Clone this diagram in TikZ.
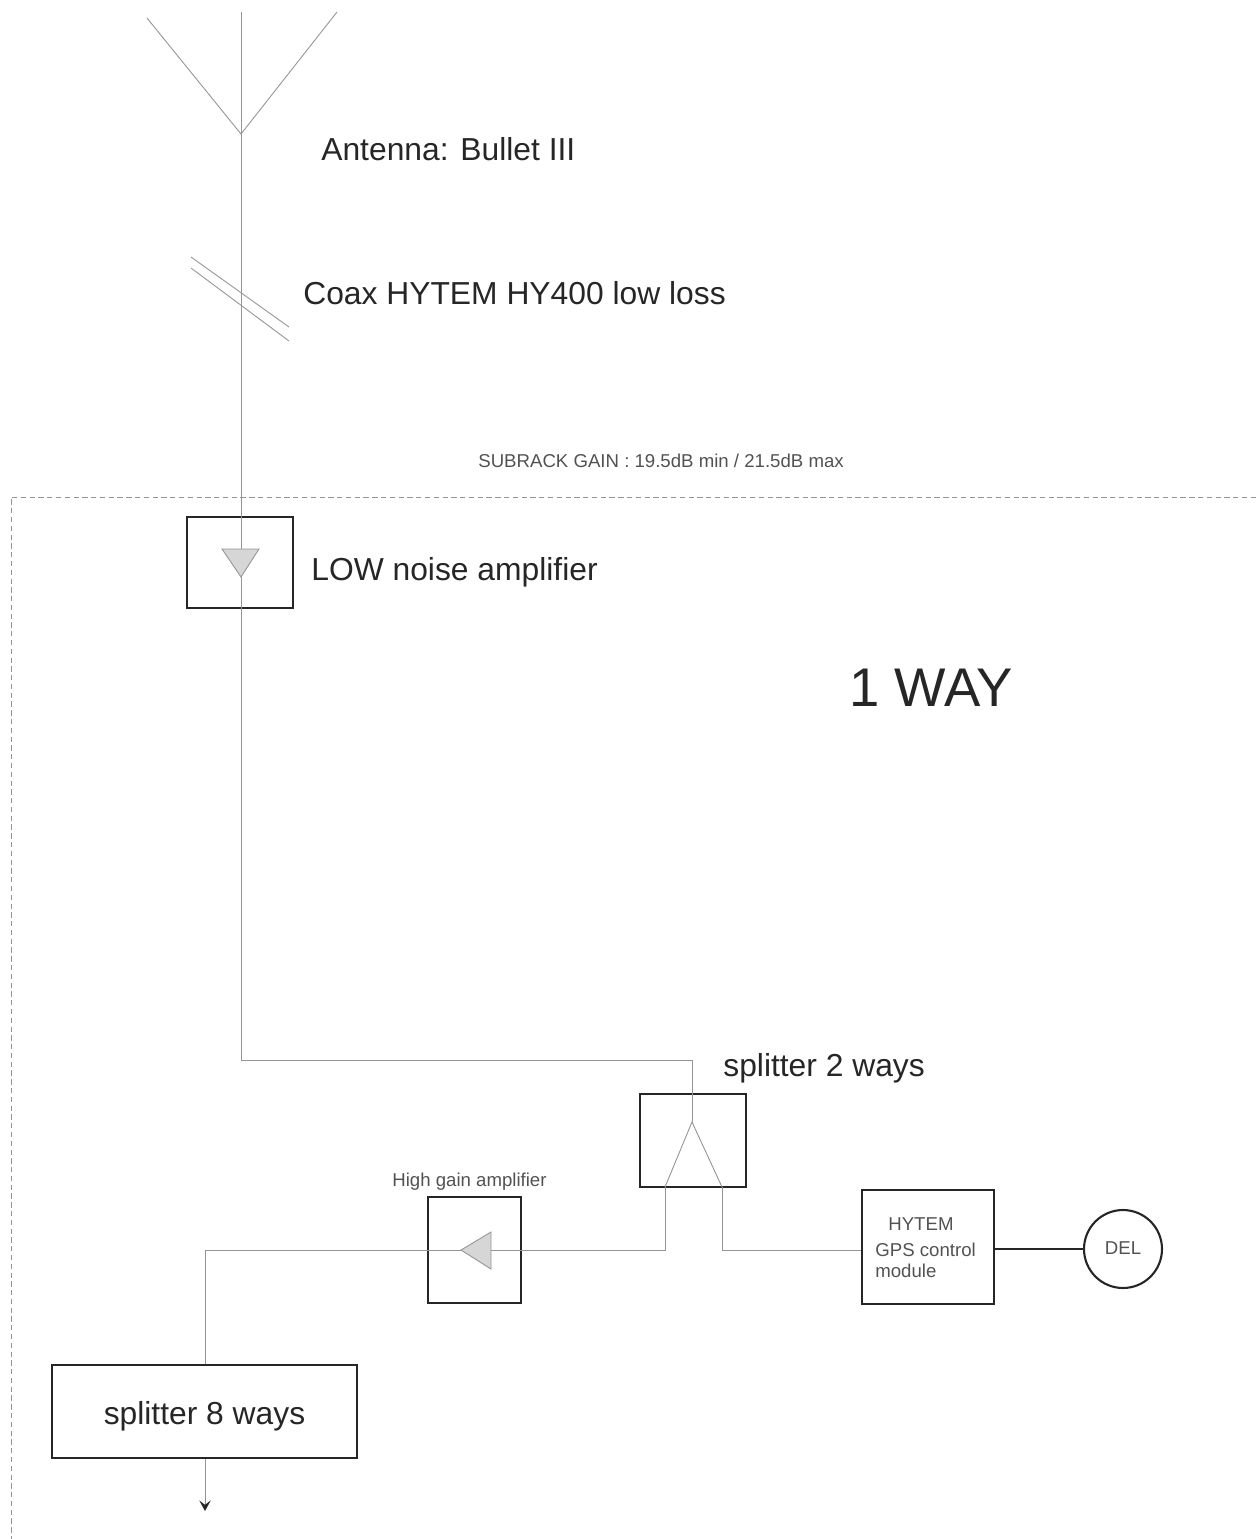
\documentclass[tikz,border=0pt]{standalone}
\usepackage{fontspec}
\setmainfont{Liberation Sans}
\usetikzlibrary{arrows.meta}
\definecolor{wire}{gray}{0.58}
\definecolor{triangle}{gray}{0.84}
\definecolor{ink}{gray}{0.15}
\tikzset{
  wireline/.style={draw=wire, line width=0.5pt},
  blockbox/.style={draw=ink, line width=1.4pt, inner sep=0pt, text=ink},
  biglabel/.style={inner sep=0pt, text=ink, font=\fontsize{18.1}{20}\selectfont},
  smalllabel/.style={inner sep=0pt, text=ink!80, font=\fontsize{10.6}{12}\selectfont}
}
\begin{document}
\begin{tikzpicture}[x=0.02cm, y=-0.02cm]
\useasboundingbox (0,0) rectangle (1256,1539);
% antenna
\coordinate (tip) at (241,134);
\coordinate (top) at (241,12);
\coordinate (armleft) at (147,18);
\coordinate (armright) at (337,12);
\draw[wireline] (armleft) -- (tip) -- (armright);
\draw[wireline] (top) -- (tip);
\node[biglabel, anchor=base west] (antlabel) at (321,160) {Antenna: Bullet III};
% coax marks
\coordinate (coaxa) at (191,257);
\coordinate (coaxb) at (289,327);
\coordinate (coaxc) at (191,268);
\coordinate (coaxd) at (289,341);
\draw[wireline] (coaxa) -- (coaxb);
\draw[wireline] (coaxc) -- (coaxd);
\node[biglabel, anchor=base west] (coaxlabel) at (303,304) {Coax HYTEM HY400 low loss};
% subrack
\node[smalllabel, anchor=base west] (gainlabel) at (478,467) {SUBRACK GAIN : 19.5dB min / 21.5dB max};
\coordinate (rackright) at (1256,497);
\coordinate (rackcorner) at (11,497);
\coordinate (rackbottom) at (11,1539);
\draw[wire, line width=0.5pt, densely dashed] (rackright) -- (rackcorner) -- (rackbottom);
\node[inner sep=0pt, text=ink, font=\fontsize{31}{34}\selectfont, anchor=base west] (waylabel) at (849,706) {1 WAY};
% blocks
\node[blockbox, minimum width=2.12cm, minimum height=1.82cm] (lna) at (240,562.5) {};
\node[blockbox, minimum width=2.12cm, minimum height=1.86cm] (splittwo) at (693,1140.5) {};
\node[blockbox, minimum width=1.86cm, minimum height=2.12cm] (highgain) at (474.5,1250) {};
\node[blockbox, minimum width=2.64cm, minimum height=2.28cm] (gps) at (928,1247) {};
\node[blockbox, circle, line width=1.2pt, minimum size=1.56cm] (del) at (1123,1249) {};
\node[blockbox, minimum width=6.1cm, minimum height=1.86cm, biglabel, text height=15.2pt, text depth=0pt] (spliteight) at (204.5,1411.5) {splitter 8 ways};
% text of the blocks
\node[biglabel, anchor=base west] (lnalabel) at (311,580) {LOW noise amplifier};
\node[biglabel, anchor=base west] (twolabel) at (723,1076) {splitter 2 ways};
\node[smalllabel, anchor=base west] (highlabel) at (392,1186) {High gain amplifier};
\node[smalllabel, anchor=base west] (hytemlabel) at (888,1230) {HYTEM};
\node[smalllabel, anchor=base west] (gpslabel) at (875,1256) {GPS control};
\node[smalllabel, anchor=base west] (modlabel) at (875,1277.5) {module};
\node[smalllabel, anchor=base] (dellabel) at (1123,1254) {DEL};
% amplifiers
\coordinate (lnaa) at (222,549);
\coordinate (lnab) at (259,549);
\coordinate (lnac) at (241,577);
\filldraw[wire, fill=triangle, line width=0.5pt] (lnaa) -- (lnab) -- (lnac) -- cycle;
\coordinate (higha) at (491,1232);
\coordinate (highb) at (491,1269);
\coordinate (highc) at (461,1250);
\filldraw[wire, fill=triangle, line width=0.5pt] (higha) -- (highb) -- (highc) -- cycle;
% wiring
\coordinate (lnain) at (241,549);
\coordinate (apex) at (692,1122);
\coordinate (legleft) at (665,1187);
\coordinate (legright) at (722,1187);
\coordinate (arrowend) at (205,1511);
\draw[wireline] (tip) -- (lnain);
\draw[wireline] (lnac) -- (241,1060) -- (692,1060) -- (apex);
\draw[wireline] (legleft) -- (apex) -- (legright);
\draw[wireline] (legleft) -- (665,1250) -- (higha |- highc);
\draw[wireline] (legright) -- (722,1250) -- (gps.west |- 722,1250);
\draw[wireline] (highc) -- (205,1250) -- (spliteight.north -| 205,1250);
\draw[draw=ink, line width=1.5pt] (gps.east |- del.west) -- (del.west);
\draw[wireline, -{Stealth[length=6pt, width=6.5pt, inset=2.5pt, color=ink]}] (spliteight.south -| arrowend) -- (arrowend);
\end{tikzpicture}
\end{document}
